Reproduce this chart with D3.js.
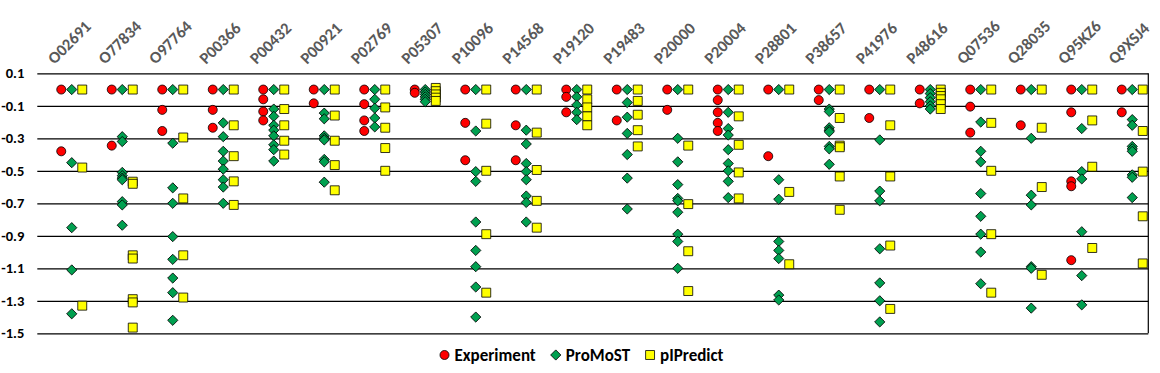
<!DOCTYPE html>
<html>
<head>
<meta charset="utf-8">
<script src="https://cdn.jsdelivr.net/npm/d3@7"></script>
<style>
body { margin: 0; background: #fff; }
svg text { font-family: Carlito, Calibri, Lato, sans-serif; font-weight: bold; }
</style>
</head>
<body>
<div id="chart"></div>
<script>
// one entry per protein, each entry holds all the pI shifts read for it
var categories = ['O02691', 'O77834', 'O97764', 'P00366', 'P00432', 'P00921', 'P02769', 'P05307',
  'P10096', 'P14568', 'P19120', 'P19483', 'P20000', 'P20004', 'P28801', 'P38657', 'P41976',
  'P48616', 'Q07536', 'Q28035', 'Q95KZ6', 'Q9XSJ4'];

var experiment = [
  [0, -0.38], [0, -0.345], [0, -0.125, -0.255], [0, -0.125, -0.235], [0, -0.06, -0.135, -0.19],
  [0, -0.085], [0, -0.09, -0.19, -0.255], [0, -0.02], [0, -0.205, -0.435], [0, -0.22, -0.435],
  [0, -0.045, -0.14], [0, -0.19], [0, -0.125], [0, -0.065, -0.14, -0.205, -0.255], [0, -0.41],
  [0, -0.065], [0, -0.175], [0, -0.085], [0, -0.105, -0.265], [0, -0.22],
  [0, -0.14, -0.565, -0.595, -1.05], [0, -0.14]
];

var promost = [
  [0, -0.45, -0.85, -1.11, -1.38],
  [0, -0.29, -0.32, -0.51, -0.53, -0.545, -0.555, -0.69, -0.71, -0.835],
  [0, -0.33, -0.605, -0.70, -0.905, -1.045, -1.16, -1.25, -1.42],
  [0, -0.205, -0.29, -0.38, -0.44, -0.49, -0.555, -0.60, -0.70],
  [0, -0.12, -0.165, -0.22, -0.25, -0.285, -0.34, -0.37, -0.44],
  [0, -0.145, -0.18, -0.285, -0.30, -0.31, -0.43, -0.445, -0.57],
  [0, -0.06, -0.115, -0.175, -0.23],
  [0, -0.015, -0.03, -0.045, -0.06, -0.075],
  [0, -0.255, -0.505, -0.565, -0.815, -0.99, -1.09, -1.215, -1.40],
  [0, -0.25, -0.335, -0.455, -0.505, -0.555, -0.655, -0.695, -0.815],
  [0, -0.045, -0.095, -0.14, -0.185],
  [0, -0.08, -0.17, -0.27, -0.40, -0.545, -0.735],
  [0, -0.30, -0.445, -0.585, -0.67, -0.685, -0.755, -0.89, -0.935, -1.10],
  [0, -0.14, -0.24, -0.28, -0.37, -0.455, -0.50, -0.565, -0.665],
  [0, -0.555, -0.675, -0.935, -0.99, -1.04, -1.265, -1.295],
  [0, -0.12, -0.135, -0.235, -0.25, -0.26, -0.35, -0.365, -0.46],
  [0, -0.31, -0.625, -0.685, -0.98, -1.19, -1.30, -1.43],
  [0, -0.025, -0.05, -0.075, -0.10, -0.12],
  [0, -0.20, -0.38, -0.445, -0.64, -0.78, -0.89, -1.00, -1.195],
  [0, -0.30, -0.65, -0.71, -1.09, -1.10, -1.345],
  [0, -0.24, -0.505, -0.55, -0.875, -1.145, -1.325],
  [0, -0.185, -0.22, -0.35, -0.365, -0.38, -0.525, -0.54, -0.665]
];

var pipredict = [
  [0, -0.48, -1.33],
  [0, -0.567, -0.58, -1.02, -1.04, -1.29, -1.31, -1.465],
  [0, -0.295, -0.67, -1.02, -1.28],
  [0, -0.22, -0.41, -0.565, -0.71],
  [0, -0.12, -0.22, -0.315, -0.40],
  [0, -0.16, -0.315, -0.465, -0.62],
  [0, -0.11, -0.235, -0.36, -0.50],
  [0.01, -0.01, -0.03, -0.05, -0.07],
  [0, -0.21, -0.50, -0.89, -1.25],
  [0, -0.265, -0.495, -0.685, -0.85],
  [0, -0.06, -0.11, -0.165, -0.22],
  [0, -0.07, -0.155, -0.25, -0.35],
  [0, -0.345, -0.705, -0.995, -1.24],
  [0, -0.165, -0.34, -0.51, -0.67],
  [0, -0.63, -1.075],
  [0, -0.175, -0.345, -0.355, -0.535, -0.74],
  [0, -0.22, -0.535, -0.96, -1.35],
  [0, -0.02, -0.04, -0.06, -0.09, -0.12],
  [0, -0.205, -0.50, -0.89, -1.25],
  [0, -0.235, -0.60, -1.14],
  [0, -0.19, -0.475, -0.975],
  [0, -0.255, -0.505, -0.78, -1.07]
];

var yTicks = [0.1, -0.1, -0.3, -0.5, -0.7, -0.9, -1.1, -1.3, -1.5];
var seriesNames = ['Experiment', 'ProMoST', 'pIPredict'];
var seriesData = [experiment, promost, pipredict];
var seriesFill = ['#FF0000', '#00A050', '#FFFF00'];

var width = 1160, height = 373;
var plotLeft = 37.3, plotRight = 1148.3, plotTop = 73.3, plotBottom = 333.3;

var svg = d3.select('#chart').append('svg')
  .attr('width', width)
  .attr('height', height);

svg.append('rect').attr('width', width).attr('height', height).attr('fill', '#fff');

var x = d3.scaleBand().domain(categories).range([plotLeft, plotRight]);
// small shift of each series inside a category
var xs = d3.scalePoint().domain(seriesNames).range([-1.3, 19.7]);
var y = d3.scaleLinear().domain([-1.5, 0.1]).range([plotBottom, plotTop]);

// gridlines + y labels
var yAxis = svg.append('g')
  .attr('transform', 'translate(' + plotLeft + ',0)')
  .call(d3.axisLeft(y)
    .tickValues(yTicks)
    .tickSize(-(plotRight - plotLeft))
    .tickPadding(13)
    .tickFormat(function(d) { return d.toFixed(1); }));
yAxis.select('.domain').remove();
yAxis.selectAll('.tick line').attr('stroke', '#000').attr('stroke-width', 1.2);
yAxis.selectAll('.tick text')
  .attr('fill', '#000')
  .style('font-size', '14.5px');

// right border of the plot
svg.append('line')
  .attr('x1', plotRight).attr('x2', plotRight)
  .attr('y1', plotTop).attr('y2', plotBottom)
  .attr('stroke', '#000').attr('stroke-width', 1.2);

// category labels along the top
svg.selectAll('.cat')
  .data(categories)
  .join('text')
  .attr('class', 'cat')
  .attr('transform', function(d) {
    return 'translate(' + (x(d) + x.bandwidth() / 2 - 8) + ',65) rotate(-45)';
  })
  .attr('fill', '#595959')
  .style('font-size', '16.5px')
  .text(function(d) { return d; });

var symbols = [
  d3.symbol(d3.symbolCircle, 64),
  d3.symbol(d3.symbolSquare, 52),
  d3.symbol(d3.symbolSquare, 80)
];
var rotation = [0, 45, 0];

seriesNames.forEach(function(name, s) {
  var pts = [];
  categories.forEach(function(c, i) {
    seriesData[s][i].forEach(function(v) { pts.push({cat: c, value: v}); });
  });
  svg.append('g').selectAll('path')
    .data(pts)
    .join('path')
    .attr('d', symbols[s])
    .attr('transform', function(d) {
      var cx = x(d.cat) + x.bandwidth() / 2 + xs(name);
      return 'translate(' + cx + ',' + y(d.value) + ') rotate(' + rotation[s] + ')';
    })
    .attr('fill', seriesFill[s])
    .attr('stroke', '#000')
    .attr('stroke-width', 0.8);
});

// legend, centred under the plot
var legend = svg.append('g');
var lx = 0;
seriesNames.forEach(function(name, s) {
  var item = legend.append('g').attr('transform', 'translate(' + lx + ',0)');
  item.append('path')
    .attr('d', symbols[s])
    .attr('transform', 'rotate(' + rotation[s] + ')')
    .attr('fill', seriesFill[s])
    .attr('stroke', '#000')
    .attr('stroke-width', 0.8);
  var t = item.append('text')
    .attr('x', 10)
    .attr('y', 6)
    .style('font-size', '17px')
    .attr('fill', '#000')
    .text(name);
  lx += 10 + t.node().getComputedTextLength() + 20;
});
var lw = lx - 20;
legend.attr('transform', 'translate(' + (width / 2 - lw / 2 + 4) + ',355)');
</script>
</body>
</html>
